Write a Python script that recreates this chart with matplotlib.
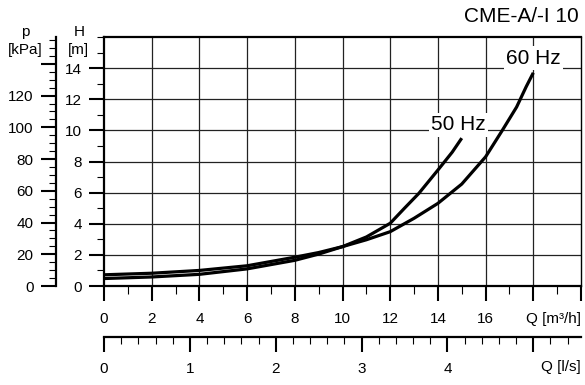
import numpy as np
import matplotlib.pyplot as plt
from matplotlib.ticker import MultipleLocator, FixedLocator

plt.rcParams.update({
    "font.family": ["Liberation Sans", "DejaVu Sans"],
    "font.size": 11,
})

# curve readings, Q in m3/h, H in m
q_50hz = [0, 2, 4, 6, 8, 9, 10, 11, 12, 12.6, 13.2, 14, 14.6, 15]
h_50hz = [0.48, 0.58, 0.75, 1.1, 1.65, 2.05, 2.53, 3.15, 4.03, 5.0, 5.95, 7.45, 8.6, 9.5]
q_60hz = [0, 2, 4, 6, 8, 9, 10, 11, 12, 13, 14, 15, 16, 16.7, 17.3, 17.7, 18]
h_60hz = [0.72, 0.82, 1.0, 1.3, 1.85, 2.15, 2.53, 2.97, 3.49, 4.35, 5.31, 6.55, 8.3, 10.0, 11.5, 12.8, 13.7]

q_ticks = [0, 2, 4, 6, 8, 10, 12, 14, 16, 18, 20]
q_ticklabels = ["0", "2", "4", "6", "8", "10", "12", "14", "16", "", ""]
ls_ticks = [0, 1, 2, 3, 4, 5]
ls_ticklabels = ["0", "1", "2", "3", "4", ""]
h_ticks = [0, 2, 4, 6, 8, 10, 12, 14]
p_ticks = [0, 20, 40, 60, 80, 100, 120, 140]
p_ticklabels = ["0", "20", "40", "60", "80", "100", "120", ""]

Q_MAX = 20
H_MAX = 16
KPA_PER_M = 9.81
M3H_PER_LS = 3.6

W, H = 585, 385
fig = plt.figure(figsize=(W / 100, H / 100), dpi=100)

x0, x1 = 104, 581
y_top, y_bot = 37, 286


def box(left, bottom_px, right, top_px):
    return [left / W, 1 - bottom_px / H, (right - left) / W, (bottom_px - top_px) / H]


ax = fig.add_axes(box(x0, y_bot, x1, y_top))
ax.set_xlim(0, Q_MAX)
ax.set_ylim(0, H_MAX)

for q in range(2, Q_MAX, 2):
    ax.axvline(q, color="#222222", lw=0.9, zorder=1)
for h in range(2, H_MAX, 2):
    ax.axhline(h, color="#222222", lw=0.9, zorder=1)

ax.plot(q_50hz, h_50hz, color="black", lw=2.3, solid_capstyle="butt",
        solid_joinstyle="round", zorder=3)
ax.plot(q_60hz, h_60hz, color="black", lw=2.3, solid_capstyle="butt",
        solid_joinstyle="round", zorder=3)

lbl = dict(fontsize=15, ha="center", va="center", zorder=4,
           bbox=dict(facecolor="white", edgecolor="none", pad=1.5))
ax.text(14.85, 10.35, "50 Hz", **lbl)
ax.text(18.0, 14.65, "60 Hz", **lbl)

for side in ["left", "top", "bottom"]:
    ax.spines[side].set_linewidth(1.6)
ax.spines["right"].set_linewidth(1.0)

ax.xaxis.set_major_locator(FixedLocator(q_ticks))
ax.set_xticklabels(q_ticklabels)
ax.xaxis.set_minor_locator(MultipleLocator(1))
ax.yaxis.set_major_locator(FixedLocator(h_ticks))
ax.yaxis.set_minor_locator(MultipleLocator(1))
ax.tick_params(axis="x", which="major", direction="out", length=11, width=1.5, pad=8)
ax.tick_params(axis="x", which="minor", direction="out", length=6, width=0.8)
ax.tick_params(axis="y", which="major", direction="out", length=11, width=1.5, pad=5)
ax.tick_params(axis="y", which="minor", direction="out", length=5, width=0.8)
ax.set_yticklabels([str(h) for h in h_ticks])

fig.text(x1 / W, 1 - 319 / H, "Q [m³/h]", ha="right", va="center")
fig.text(79 / W, 1 - 32 / H, "H", ha="center", va="center")
fig.text(78 / W, 1 - 50 / H, "[m]", ha="center", va="center")

# flow axis in l/s
ax_ls = fig.add_axes(box(x0, 337, x1, 336))
ax_ls.set_xlim(0, Q_MAX / M3H_PER_LS)
for side in ["left", "right", "top"]:
    ax_ls.spines[side].set_visible(False)
ax_ls.spines["bottom"].set_linewidth(1.6)
ax_ls.patch.set_visible(False)
ax_ls.set_yticks([])
ax_ls.xaxis.set_major_locator(FixedLocator(ls_ticks))
ax_ls.set_xticklabels(ls_ticklabels)
ax_ls.xaxis.set_minor_locator(MultipleLocator(0.2))
ax_ls.tick_params(axis="x", which="major", direction="out", length=11, width=1.5, pad=7)
ax_ls.tick_params(axis="x", which="minor", direction="out", length=5, width=0.8)
fig.text(x1 / W, 1 - 367 / H, "Q [l/s]", ha="right", va="center")

# pressure axis in kPa
ax_p = fig.add_axes(box(55.7, y_bot, 56.7, y_top))
ax_p.set_ylim(0, H_MAX * KPA_PER_M)
for side in ["right", "top", "bottom"]:
    ax_p.spines[side].set_visible(False)
ax_p.spines["left"].set_linewidth(1.6)
ax_p.patch.set_visible(False)
ax_p.set_xticks([])
ax_p.yaxis.set_major_locator(FixedLocator(p_ticks))
ax_p.set_yticklabels(p_ticklabels)
ax_p.yaxis.set_minor_locator(MultipleLocator(5))
ax_p.tick_params(axis="y", which="major", direction="out", length=11, width=1.5, pad=5)
ax_p.tick_params(axis="y", which="minor", direction="out", length=5, width=0.8)
fig.text(25 / W, 1 - 32 / H, "p", ha="center", va="center")
fig.text(25 / W, 1 - 50 / H, "[kPa]", ha="center", va="center")

fig.text(579 / W, 1 - 17 / H, "CME-A/-I 10", ha="right", va="center", fontsize=15)

fig.savefig("out.png", dpi=100)
